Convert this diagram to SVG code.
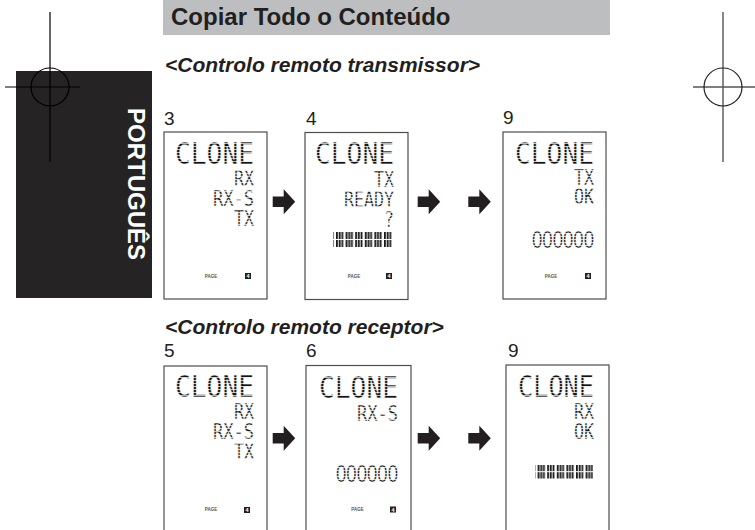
<svg xmlns="http://www.w3.org/2000/svg" width="755" height="530" viewBox="0 0 755 530">
<style>
.hdr{font-family:"Liberation Sans",Arial,sans-serif;font-weight:bold;font-size:24px;fill:#231f20}
.sub{font-family:"Liberation Sans",Arial,sans-serif;font-weight:bold;font-style:italic;font-size:21px;fill:#231f20}
.num{font-family:"Liberation Sans",Arial,sans-serif;font-size:19px;fill:#231f20}
.side{font-family:"Liberation Sans",Arial,sans-serif;font-weight:bold;font-size:24px;fill:#ffffff}
.scr{fill:#ffffff;stroke:#4d4d4d;stroke-width:1.2}
.big{font-family:"DejaVu Sans Mono",monospace;font-size:30px;fill:url(#lcd);stroke:#fff;stroke-width:0.4;text-anchor:end}
.sm{font-family:"DejaVu Sans Mono",monospace;font-size:20.5px;fill:url(#lcd);stroke:#fff;stroke-width:0.35;text-anchor:end}
.dig{font-family:"Liberation Sans",Arial,sans-serif;font-size:23px;fill:url(#lcd);stroke:#fff;stroke-width:0.35;text-anchor:end}
.pg{font-family:"Liberation Sans",Arial,sans-serif;font-weight:bold;font-size:4.5px;fill:#555;text-anchor:middle}
.sq{fill:#231f20}
.sqt{font-family:"Liberation Sans",Arial,sans-serif;font-weight:bold;font-size:5.5px;fill:#fff;text-anchor:middle}
.crop{fill:none;stroke:#000;stroke-width:1.2}
.cropr{fill:none;stroke:#555;stroke-width:1.4}
</style>
<defs>
<pattern id="lcd" patternUnits="userSpaceOnUse" width="4" height="3">
<rect width="4" height="2.3" fill="#111"/>
</pattern>
<pattern id="bars" patternUnits="userSpaceOnUse" width="9.6" height="20">
<rect x="0" width="1.8" height="20" fill="#1a1a1a"/>
<rect x="2.7" width="1.8" height="20" fill="#1a1a1a"/>
<rect x="5.4" width="1.8" height="20" fill="#1a1a1a"/>
</pattern>
<path id="arw" d="M0,-5.3 H11 V-12.5 L22.5,0 L11,12.5 V5.3 H0 Z" fill="#231f20"/>
</defs>

<rect x="0" y="0" width="755" height="530" fill="#ffffff"/>

<g id="header">
<rect x="163" y="0" width="447" height="35" fill="#bcbec0"/>
<text class="hdr" x="171" y="24.5">Copiar Todo o Conteúdo</text>
</g>

<g id="sidebar">
<rect x="16" y="71" width="136" height="227" fill="#262324"/>
<text class="side" transform="translate(128,108) rotate(90)">PORTUGUÊS</text>
</g>

<g id="cropmarks">
<line class="crop" x1="50" y1="12" x2="50" y2="162"/>
<line class="crop" x1="5" y1="87" x2="80" y2="87"/>
<circle class="crop" cx="50" cy="87" r="19"/>
<line class="cropr" x1="723" y1="12" x2="723" y2="162"/>
<line class="cropr" x1="693" y1="87" x2="755" y2="87"/>
<circle cx="723" cy="87" r="19" fill="none" stroke="#222" stroke-width="1.2"/>
</g>

<text class="sub" x="165" y="72">&lt;Controlo remoto transmissor&gt;</text>
<text class="sub" x="165" y="334">&lt;Controlo remoto receptor&gt;</text>

<g id="screen-t3">
<text class="num" x="164" y="124.5">3</text>
<rect class="scr" x="164" y="132" width="103" height="167"/>
<text class="big" x="254" y="164" textLength="79" lengthAdjust="spacingAndGlyphs">CLONE</text>
<text class="sm" x="254" y="185.5" textLength="20" lengthAdjust="spacingAndGlyphs">RX</text>
<text class="sm" x="254" y="206" textLength="41" lengthAdjust="spacingAndGlyphs">RX-S</text>
<text class="sm" x="254" y="226" textLength="20" lengthAdjust="spacingAndGlyphs">TX</text>
<text class="pg" x="211" y="277.5">PAGE</text>
<rect class="sq" x="245" y="273" width="6" height="6"/>
<text class="sqt" x="248" y="278">4</text>
</g>

<g id="screen-t4">
<text class="num" x="306" y="124.5">4</text>
<rect class="scr" x="305" y="132.5" width="103" height="167"/>
<text class="big" x="394" y="163.5" textLength="79" lengthAdjust="spacingAndGlyphs">CLONE</text>
<text class="sm" x="394" y="186.5" textLength="20" lengthAdjust="spacingAndGlyphs">TX</text>
<text class="sm" x="394" y="207" textLength="50" lengthAdjust="spacingAndGlyphs">READY</text>
<text class="sm" x="394" y="226.5" textLength="10" lengthAdjust="spacingAndGlyphs">?</text>
<rect x="333" y="232" width="60" height="15" fill="url(#bars)"/>
<line x1="333" y1="239.5" x2="393" y2="239.5" stroke="#fff" stroke-width="1"/>
<text class="pg" x="354" y="277.5">PAGE</text>
<rect class="sq" x="386" y="273" width="6" height="6"/>
<text class="sqt" x="389" y="278">4</text>
</g>

<g id="screen-t9">
<text class="num" x="503" y="124">9</text>
<rect class="scr" x="503" y="132" width="103" height="167"/>
<text class="big" x="594" y="163.5" textLength="79" lengthAdjust="spacingAndGlyphs">CLONE</text>
<text class="sm" x="594" y="184.5" textLength="20" lengthAdjust="spacingAndGlyphs">TX</text>
<text class="sm" x="594" y="204" textLength="20" lengthAdjust="spacingAndGlyphs">OK</text>
<text class="dig" x="594" y="248" textLength="62" lengthAdjust="spacingAndGlyphs">000000</text>
<text class="pg" x="551" y="277.5">PAGE</text>
<rect class="sq" x="585" y="273" width="6" height="6"/>
<text class="sqt" x="588" y="278">4</text>
</g>

<g id="screen-r5">
<text class="num" x="164" y="357">5</text>
<rect class="scr" x="164" y="366" width="103" height="170"/>
<text class="big" x="254" y="397" textLength="79" lengthAdjust="spacingAndGlyphs">CLONE</text>
<text class="sm" x="254" y="418.5" textLength="20" lengthAdjust="spacingAndGlyphs">RX</text>
<text class="sm" x="254" y="438.5" textLength="41" lengthAdjust="spacingAndGlyphs">RX-S</text>
<text class="sm" x="254" y="459" textLength="20" lengthAdjust="spacingAndGlyphs">TX</text>
<text class="pg" x="211" y="511">PAGE</text>
<rect class="sq" x="244" y="507" width="6" height="6"/>
<text class="sqt" x="247" y="512">4</text>
</g>

<g id="screen-r6">
<text class="num" x="306" y="357">6</text>
<rect class="scr" x="306" y="365.5" width="105" height="170"/>
<text class="big" x="398" y="398" textLength="79" lengthAdjust="spacingAndGlyphs">CLONE</text>
<text class="sm" x="398" y="420.5" textLength="41" lengthAdjust="spacingAndGlyphs">RX-S</text>
<text class="dig" x="398" y="481.5" textLength="62" lengthAdjust="spacingAndGlyphs">000000</text>
<text class="pg" x="357.5" y="510.5">PAGE</text>
<rect class="sq" x="390" y="506.5" width="6" height="6"/>
<text class="sqt" x="393" y="511.5">4</text>
</g>

<g id="screen-r9">
<text class="num" x="508" y="357">9</text>
<rect class="scr" x="506" y="365" width="103" height="170"/>
<text class="big" x="594" y="396.5" textLength="76" lengthAdjust="spacingAndGlyphs">CLONE</text>
<text class="sm" x="594" y="418.5" textLength="20" lengthAdjust="spacingAndGlyphs">RX</text>
<text class="sm" x="594" y="439" textLength="20" lengthAdjust="spacingAndGlyphs">OK</text>
<rect x="535" y="465" width="58" height="13.5" fill="url(#bars)"/>
<line x1="535" y1="471.7" x2="593" y2="471.7" stroke="#fff" stroke-width="1"/>
</g>

<g id="connectors">
<use href="#arw" x="272.7" y="201.7"/>
<use href="#arw" x="417.7" y="201.7"/>
<use href="#arw" x="468.3" y="201.7"/>
<use href="#arw" x="272.7" y="438.3"/>
<use href="#arw" x="417.7" y="438.3"/>
<use href="#arw" x="468.3" y="438.3"/>
</g>
</svg>
